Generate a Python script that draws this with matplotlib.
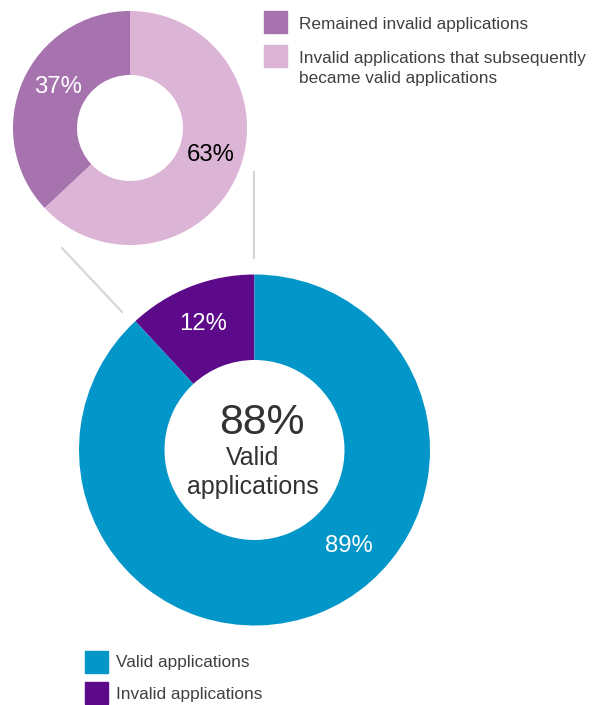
import matplotlib.pyplot as plt
from matplotlib.patches import Rectangle

plt.rcParams['font.family'] = ['Liberation Sans', 'DejaVu Sans']

# breakdown of invalid applications (small ring)
sub_labels = ["Remained invalid applications",
              "Invalid applications that subsequently\nbecame valid applications"]
sub_values = [37, 63]
sub_colors = ["#a673ae", "#dcb4d5"]

# all applications (large ring)
main_labels = ["Invalid applications", "Valid applications"]
main_values = [12, 89]
main_colors = ["#5c0a8a", "#0396c8"]

center_pct = "88%"
center_text = ["Valid", "applications"]

W, H = 592, 705
fig = plt.figure(figsize=(W / 100, H / 100), dpi=100)
ax = fig.add_axes([0, 0, 1, 1])


def py(y):
    # pixel rows count from the top
    return H - y


# connector lines between the two rings
ax.plot([62, 122], [py(248), py(312)], color="#d4d4d4", lw=1.5, zorder=0)
ax.plot([254, 254], [py(172), py(258)], color="#d4d4d4", lw=1.5, zorder=0)

# small ring
ax.pie(sub_values, colors=sub_colors, center=(130, py(128)), radius=117,
       startangle=90, counterclock=True, wedgeprops=dict(width=117 - 53),
       frame=True)
# large ring
ax.pie(main_values, colors=main_colors, center=(254.5, py(450)), radius=175.5,
       startangle=90, counterclock=True, wedgeprops=dict(width=175.5 - 90),
       frame=True)
ax.set_xlim(0, W)
ax.set_ylim(0, H)
ax.set_aspect('equal')
ax.axis('off')

pct_size = 17.2
ax.text(58, py(87), f"{sub_values[0]}%", color="white", fontsize=pct_size,
        ha="center", va="center")
ax.text(211, py(155), f"{sub_values[1]}%", color="black", fontsize=pct_size,
        ha="center", va="center")
ax.text(203, py(324), f"{main_values[0]}%", color="white", fontsize=pct_size,
        ha="center", va="center")
ax.text(349, py(546), f"{main_values[1]}%", color="white", fontsize=pct_size,
        ha="center", va="center")

ax.text(262, py(423), center_pct, color="#333333", fontsize=30.8,
        ha="center", va="center")
for y, line in zip([458, 487], center_text):
    ax.text(253, py(y), line, color="#333333", fontsize=18,
            ha="center", va="center")

# legend for the small ring
sub_y = [22, 56]
for y, lab, col in zip(sub_y, sub_labels, sub_colors):
    ax.add_patch(Rectangle((264, py(y + 11)), 23, 22, color=col))
    for i, line in enumerate(lab.split("\n")):
        ax.text(299, py(y + 2 + 20 * i), line, color="#404040",
                fontsize=12.4, ha="left", va="center")

# legend for the large ring
main_y = [693, 662]
for y, lab, col in zip(main_y, main_labels, main_colors):
    ax.add_patch(Rectangle((85, py(y + 11)), 23, 22, color=col))
    ax.text(116, py(y + 1), lab, color="#404040", fontsize=12.4,
            ha="left", va="center")

fig.savefig("out.png", dpi=100)
